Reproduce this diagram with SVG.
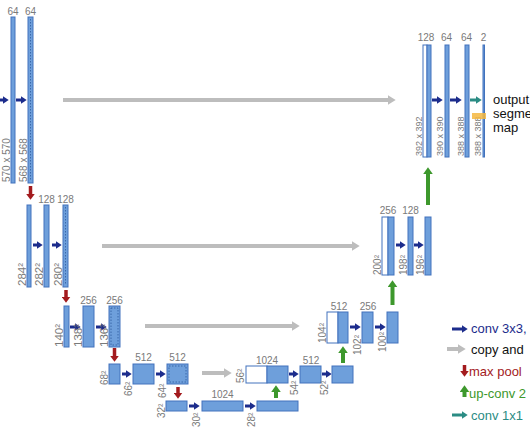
<svg xmlns="http://www.w3.org/2000/svg" width="530" height="443" viewBox="0 0 530 443">
<style>
.b{fill:#6e9fdb;stroke:#4272bd;stroke-width:1}
.w{fill:#ffffff;stroke:#4272bd;stroke-width:1}
.d{fill:none;stroke:#2f5a9e;stroke-width:0.8;stroke-dasharray:1.5 1.5}
.t{font-family:"Liberation Sans",Arial,sans-serif;font-size:10px;fill:#7a7a7a}
.c{text-anchor:middle}
.s{font-size:9px}
.L{font-size:11.5px}
.cb{stroke:#1c2c8c;stroke-width:3;fill:none}
.cg{stroke:#bdbdbd;stroke-width:4;fill:none}
.cr{stroke:#a31b1e;stroke-width:3.5;fill:none}
.cu{stroke:#3d982c;stroke-width:4;fill:none}
.ct{stroke:#2b8c84;stroke-width:3;fill:none}
.lg{font-family:"Liberation Sans",Arial,sans-serif;font-size:13px}
</style>
<defs>
<marker id="mb" markerUnits="userSpaceOnUse" markerWidth="6" markerHeight="8" viewBox="0 0 6 8" refX="0.3" refY="4" orient="auto"><path d="M0,0 L6,4 L0,8 z" fill="#1c2c8c"/></marker>
<marker id="mg" markerUnits="userSpaceOnUse" markerWidth="8" markerHeight="10" viewBox="0 0 8 10" refX="0.3" refY="5" orient="auto"><path d="M0,0 L8,5 L0,10 z" fill="#bdbdbd"/></marker>
<marker id="mr" markerUnits="userSpaceOnUse" markerWidth="6" markerHeight="9" viewBox="0 0 6 9" refX="0.3" refY="4.5" orient="auto"><path d="M0,0 L6,4.5 L0,9 z" fill="#a31b1e"/></marker>
<marker id="mu" markerUnits="userSpaceOnUse" markerWidth="7" markerHeight="10" viewBox="0 0 7 10" refX="0.3" refY="5" orient="auto"><path d="M0,0 L7,5 L0,10 z" fill="#3d982c"/></marker>
<marker id="mt" markerUnits="userSpaceOnUse" markerWidth="6" markerHeight="8" viewBox="0 0 6 8" refX="0.3" refY="4" orient="auto"><path d="M0,0 L6,4 L0,8 z" fill="#2b8c84"/></marker>
</defs>

<g id="connectors">
<line class="cb" x1="0" y1="100" x2="3" y2="100" marker-end="url(#mb)"/>
<line class="cb" x1="16" y1="100" x2="21" y2="100" marker-end="url(#mb)"/>
<line class="cg" x1="63" y1="100" x2="388" y2="100" marker-end="url(#mg)"/>
<line class="cr" x1="30.5" y1="186" x2="30.5" y2="194" marker-end="url(#mr)"/>
<line class="cb" x1="33" y1="245" x2="37" y2="245" marker-end="url(#mb)"/>
<line class="cb" x1="52" y1="245" x2="56" y2="245" marker-end="url(#mb)"/>
<line class="cg" x1="102" y1="246" x2="352" y2="246" marker-end="url(#mg)"/>
<line class="cr" x1="66" y1="290" x2="66" y2="297" marker-end="url(#mr)"/>
<line class="cb" x1="70" y1="327" x2="75" y2="327" marker-end="url(#mb)"/>
<line class="cb" x1="96" y1="327" x2="101" y2="327" marker-end="url(#mb)"/>
<line class="cg" x1="145" y1="326" x2="292" y2="326" marker-end="url(#mg)"/>
<line class="cr" x1="114.5" y1="348" x2="114.5" y2="356" marker-end="url(#mr)"/>
<line class="cb" x1="122" y1="374" x2="126" y2="374" marker-end="url(#mb)"/>
<line class="cb" x1="156" y1="374" x2="160" y2="374" marker-end="url(#mb)"/>
<line class="cg" x1="202" y1="373" x2="224" y2="373" marker-end="url(#mg)"/>
<line class="cr" x1="178" y1="387" x2="178" y2="393" marker-end="url(#mr)"/>
<line class="cb" x1="189" y1="406" x2="194" y2="406" marker-end="url(#mb)"/>
<line class="cb" x1="245" y1="406" x2="250" y2="406" marker-end="url(#mb)"/>
<line class="cu" x1="276" y1="398" x2="276" y2="392" marker-end="url(#mu)"/>
<line class="cb" x1="289" y1="374" x2="293" y2="374" marker-end="url(#mb)"/>
<line class="cb" x1="322" y1="374" x2="326" y2="374" marker-end="url(#mb)"/>
<line class="cu" x1="343" y1="363" x2="343" y2="353" marker-end="url(#mu)"/>
<line class="cb" x1="350" y1="327" x2="355" y2="327" marker-end="url(#mb)"/>
<line class="cb" x1="375" y1="327" x2="380" y2="327" marker-end="url(#mb)"/>
<line class="cu" x1="392.5" y1="305" x2="392.5" y2="287" marker-end="url(#mu)"/>
<line class="cb" x1="396" y1="245" x2="400" y2="245" marker-end="url(#mb)"/>
<line class="cb" x1="414" y1="245" x2="418" y2="245" marker-end="url(#mb)"/>
<line class="cu" x1="428" y1="205" x2="428" y2="174" marker-end="url(#mu)"/>
<line class="cb" x1="432" y1="100" x2="437" y2="100" marker-end="url(#mb)"/>
<line class="cb" x1="450" y1="100" x2="456" y2="100" marker-end="url(#mb)"/>
<line class="ct" x1="470" y1="100" x2="476" y2="100" marker-end="url(#mt)"/>
</g>

<g id="n1a"><rect class="b" x="11" y="17" width="4" height="166"/><text class="t c" x="13" y="15">64</text><text class="t" transform="translate(10,182) rotate(-90)">570 x 570</text></g>
<g id="n1b"><rect class="b" x="28" y="17" width="5" height="166"/><line class="d" x1="30.5" y1="19" x2="30.5" y2="181"/><text class="t c" x="30.5" y="15">64</text><text class="t" transform="translate(27,182) rotate(-90)">568 x 568</text></g>

<g id="n2a"><rect class="b" x="27" y="205" width="4" height="82"/><text class="t L" transform="translate(26,286) rotate(-90)">284²</text></g>
<g id="n2b"><rect class="b" x="44" y="205" width="5" height="82"/><text class="t c" x="46.5" y="203">128</text><text class="t L" transform="translate(43,286) rotate(-90)">282²</text></g>
<g id="n2c"><rect class="b" x="63" y="205" width="5" height="82"/><line class="d" x1="65.5" y1="207" x2="65.5" y2="285"/><text class="t c" x="65.5" y="203">128</text><text class="t L" transform="translate(62,286) rotate(-90)">280²</text></g>

<g id="n3a"><rect class="b" x="64" y="306" width="5" height="41"/><text class="t L" transform="translate(63,347) rotate(-90)">140²</text></g>
<g id="n3b"><rect class="b" x="83" y="306" width="11" height="41"/><text class="t c" x="88.5" y="304">256</text><text class="t L" transform="translate(82,347) rotate(-90)">138²</text></g>
<g id="n3c"><rect class="b" x="109" y="306" width="11" height="41"/><rect class="d" x="111" y="308" width="7" height="37"/><text class="t c" x="114.5" y="304">256</text><text class="t L" transform="translate(108,347) rotate(-90)">136²</text></g>

<g id="n4a"><rect class="b" x="109" y="364" width="11" height="20"/><text class="t" transform="translate(108,385) rotate(-90)">68²</text></g>
<g id="n4b"><rect class="b" x="133" y="364" width="21" height="20"/><text class="t c" x="143.5" y="361">512</text><text class="t" transform="translate(132,396) rotate(-90)">66²</text></g>
<g id="n4c"><rect class="b" x="167" y="364" width="21" height="20"/><rect class="d" x="169" y="366" width="17" height="16"/><text class="t c" x="177.5" y="361">512</text><text class="t" transform="translate(166,398) rotate(-90)">64²</text></g>

<g id="n5a"><rect class="b" x="166" y="401" width="21" height="10"/><text class="t" transform="translate(165,418) rotate(-90)">32²</text></g>
<g id="n5b"><rect class="b" x="202" y="401" width="41" height="10"/><text class="t c" x="222.5" y="398">1024</text><text class="t" transform="translate(200,427) rotate(-90)">30²</text></g>
<g id="n5c"><rect class="b" x="257" y="401" width="41" height="10"/><text class="t" transform="translate(255,427) rotate(-90)">28²</text></g>

<g id="n6a"><rect class="w" x="246" y="366" width="21" height="17"/><rect class="b" x="267" y="366" width="21" height="17"/><text class="t c" x="267" y="364">1024</text><text class="t" transform="translate(244,383) rotate(-90)">56²</text></g>
<g id="n6b"><rect class="b" x="300" y="366" width="21" height="17"/><text class="t c" x="311" y="364">512</text><text class="t" transform="translate(298,395) rotate(-90)">54²</text></g>
<g id="n6c"><rect class="b" x="332" y="366" width="21" height="17"/><text class="t" transform="translate(328,395) rotate(-90)">52²</text></g>

<g id="n7a"><rect class="w" x="327" y="312" width="11" height="31"/><rect class="b" x="338" y="312" width="10" height="31"/><text class="t c" x="339" y="310">512</text><text class="t" transform="translate(326,343) rotate(-90)">104²</text></g>
<g id="n7b"><rect class="b" x="362" y="312" width="11" height="31"/><text class="t c" x="368" y="310">256</text><text class="t" transform="translate(361,355) rotate(-90)">102²</text></g>
<g id="n7c"><rect class="b" x="387" y="312" width="11" height="31"/><text class="t" transform="translate(386,352) rotate(-90)">100²</text></g>

<g id="n8a"><rect class="w" x="382" y="217" width="6" height="58"/><rect class="b" x="388" y="217" width="6" height="58"/><text class="t c" x="388" y="214">256</text><text class="t" transform="translate(381,275) rotate(-90)">200²</text></g>
<g id="n8b"><rect class="b" x="408" y="217" width="5" height="58"/><text class="t c" x="410.5" y="214">128</text><text class="t" transform="translate(407,275) rotate(-90)">198²</text></g>
<g id="n8c"><rect class="b" x="425" y="217" width="6" height="58"/><text class="t" transform="translate(424,275) rotate(-90)">196²</text></g>

<g id="n9a"><rect class="w" x="423" y="45" width="4" height="112"/><rect class="b" x="427" y="45" width="4" height="112"/><text class="t c" x="426" y="41">128</text><text class="t s" transform="translate(422,156) rotate(-90)">392 x 392</text></g>
<g id="n9b"><rect class="b" x="445" y="45" width="4" height="112"/><text class="t c" x="446.5" y="41">64</text><text class="t s" transform="translate(443,156) rotate(-90)">390 x 390</text></g>
<g id="n9c"><rect class="b" x="465" y="45" width="4" height="112"/><text class="t c" x="466.5" y="41">64</text><text class="t s" transform="translate(464,156) rotate(-90)">388 x 388</text></g>
<g id="n9d"><rect class="b" x="483" y="45" width="1.5" height="112"/><text class="t c" x="483.5" y="41">2</text><text class="t s" transform="translate(481,156) rotate(-90)">388 x 388</text><rect x="472" y="113" width="14" height="6" fill="#f4b740" opacity="0.85"/></g>

<g id="output"><text class="lg" fill="#111" x="493" y="104">output</text><text class="lg" fill="#111" x="493" y="118">segme</text><text class="lg" fill="#111" x="493" y="132">map</text></g>

<g id="legend">
<line class="cb" x1="452" y1="329" x2="462" y2="329" marker-end="url(#mb)"/>
<text class="lg" fill="#1c2c8c" x="471" y="333">conv 3x3,</text>
<line class="cg" x1="447" y1="349" x2="458" y2="349" marker-end="url(#mg)"/>
<text class="lg" fill="#111" x="471" y="354">copy and</text>
<line class="cr" x1="464.5" y1="365" x2="464.5" y2="371" marker-end="url(#mr)"/>
<text class="lg" fill="#a31b1e" x="469" y="376">max pool</text>
<line class="cu" x1="464.5" y1="397" x2="464.5" y2="392" marker-end="url(#mu)"/>
<text class="lg" fill="#3d982c" x="469" y="398">up-conv 2</text>
<line class="ct" x1="452" y1="415" x2="462" y2="415" marker-end="url(#mt)"/>
<text class="lg" fill="#2b8c84" x="471" y="420">conv 1x1</text>
</g>
</svg>
